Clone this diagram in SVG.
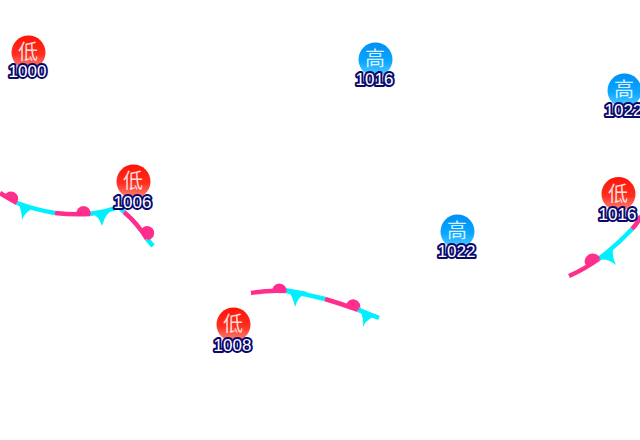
<svg xmlns="http://www.w3.org/2000/svg" width="640" height="440" viewBox="0 0 640 440">
<style>
.cold{fill:none;stroke:#00f0ff;stroke-width:4.500}
.warm{fill:none;stroke:#ff2e8c;stroke-width:4.500}
.ct{fill:#00f0ff}
.wt{fill:#ff2e8c}
.sym{font-family:"Noto Sans CJK SC","Noto Sans CJK JP",sans-serif;font-size:20px;fill:#fff;fill-opacity:.85;text-anchor:middle}
.val{font-family:"Liberation Sans",Arial,sans-serif;font-size:17px;fill:#fff;stroke:#0a0a6e;stroke-width:4;paint-order:stroke;stroke-linejoin:round;text-anchor:middle}
</style>
<defs>
<linearGradient id="red" x1="0" y1="0" x2="0" y2="1"><stop offset="0" stop-color="#ff1408"/><stop offset=".55" stop-color="#ff2e1e"/><stop offset="1" stop-color="#ff8878"/></linearGradient>
<linearGradient id="blue" x1="0" y1="0" x2="0" y2="1"><stop offset="0" stop-color="#0090f4"/><stop offset=".55" stop-color="#08a6ff"/><stop offset="1" stop-color="#58ceff"/></linearGradient>
</defs>
<rect width="640" height="440" fill="#fff"/>
<g id="connectors">
<g id="front-a">
<path class="warm" d="M0 193Q8 198 17 203"/>
<path class="cold" d="M17 203Q36 210 55 213"/>
<path class="warm" d="M55 213Q72 215 90 214"/>
<path class="cold" d="M90 214Q105 212 119 207L124 212"/>
<path class="warm" d="M124 212Q138 224 147 239"/>
<path class="cold" d="M147 239L153 246"/>
<path class="wt" d="M4.500 195.500A7 7 0 1 1 17.500 202Z"/>
<path class="wt" d="M76.500 215A7.200 7.200 0 1 1 90.500 215Z"/>
<path class="wt" d="M140.500 231A7 7 0 1 1 148 240Z"/>
<path class="ct" d="M17 201L35 208Q26 210 22 220Q22 210 17 201Z"/>
<path class="ct" d="M90 212L114 208Q105 214 102 226Q99 216 90 212Z"/>
</g>
<g id="front-b">
<path class="warm" d="M251 293Q268 290 286 291"/>
<path class="cold" d="M286 291Q306 294 325 299"/>
<path class="warm" d="M325 299Q342 304 358 310"/>
<path class="cold" d="M358 310L379 318"/>
<path class="wt" d="M272.500 292.500A7.200 7.200 0 1 1 286.500 292Z"/>
<path class="wt" d="M346 307A7.200 7.200 0 1 1 359.500 310Z"/>
<path class="ct" d="M286 288L308 292Q298 296 295 307Q293 296 286 288Z"/>
<path class="ct" d="M358 307L379 316Q367 317 363 327Q364 316 358 307Z"/>
</g>
<g id="front-c">
<path class="warm" d="M569 276Q585 269 600 258"/>
<path class="cold" d="M600 258Q618 244 632 229"/>
<path class="warm" d="M632 229Q637 224 641 216"/>
<path class="wt" d="M585.500 265A7.200 7.200 0 1 1 600 258Z"/>
<path class="ct" d="M598 260L613 248Q612 258 616 265Q607 258 598 260Z"/>
</g>
</g>
<g id="low-1000"><circle cx="28.500" cy="52.500" r="17" fill="url(#red)"/><text class="sym" x="28" y="59">低</text><text class="val" x="27.500" y="77">1000</text></g>
<g id="high-1016"><circle cx="375.500" cy="59.500" r="17" fill="url(#blue)"/><text class="sym" x="375" y="66">高</text><text class="val" x="374.500" y="85">1016</text></g>
<g id="high-1022-e"><circle cx="624.500" cy="90.500" r="17" fill="url(#blue)"/><text class="sym" x="624" y="97">高</text><text class="val" x="623.500" y="116">1022</text></g>
<g id="low-1006"><circle cx="133.500" cy="181.500" r="17" fill="url(#red)"/><text class="sym" x="133" y="188">低</text><text class="val" x="132.500" y="208">1006</text></g>
<g id="low-1016"><circle cx="618.500" cy="194" r="17" fill="url(#red)"/><text class="sym" x="618" y="200.500">低</text><text class="val" x="617.500" y="220">1016</text></g>
<g id="high-1022"><circle cx="457.500" cy="231.500" r="17" fill="url(#blue)"/><text class="sym" x="457" y="238">高</text><text class="val" x="456.500" y="257">1022</text></g>
<g id="low-1008"><circle cx="233.500" cy="324.500" r="17" fill="url(#red)"/><text class="sym" x="233" y="331">低</text><text class="val" x="232.500" y="351">1008</text></g>
</svg>
